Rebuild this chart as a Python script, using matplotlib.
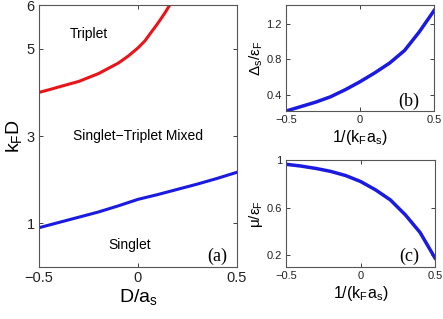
import matplotlib.pyplot as plt
import numpy as np

# panel (a): phase boundaries
red_x = [-0.5, -0.45, -0.4, -0.3, -0.2, -0.1, -0.05, 0.0, 0.035, 0.067, 0.095, 0.118, 0.14, 0.16]
red_y = [4.0, 4.06, 4.125, 4.25, 4.43, 4.67, 4.83, 5.02, 5.18, 5.38, 5.55, 5.70, 5.85, 6.0]
blue_x = [-0.5, -0.4, -0.3, -0.2, -0.1, 0.0, 0.1, 0.2, 0.3, 0.4, 0.5]
blue_y = [0.9, 1.02, 1.14, 1.26, 1.4, 1.55, 1.66, 1.78, 1.9, 2.03, 2.17]

# panels (b) and (c)
inv_kfa = [-0.5, -0.4, -0.3, -0.2, -0.1, 0.0, 0.1, 0.2, 0.3, 0.4, 0.5]
gap = [0.22, 0.27, 0.32, 0.38, 0.46, 0.55, 0.65, 0.76, 0.90, 1.11, 1.35]
mu = [0.965, 0.95, 0.93, 0.905, 0.87, 0.82, 0.75, 0.665, 0.54, 0.39, 0.175]

plt.rcParams['font.family'] = ['Liberation Sans', 'DejaVu Sans']
plt.rcParams['mathtext.fontset'] = 'custom'
plt.rcParams['mathtext.rm'] = 'Liberation Sans'
plt.rcParams['mathtext.it'] = 'Liberation Sans'
plt.rcParams['lines.solid_joinstyle'] = 'round'

fig = plt.figure(figsize=(4.43, 3.19), dpi=100)
axa = fig.add_axes([0.088, 0.163, 0.447, 0.821])
axb = fig.add_axes([0.646, 0.652, 0.334, 0.332])
axc = fig.add_axes([0.646, 0.163, 0.336, 0.335])

def style(ax, size):
    for s in ax.spines.values():
        s.set_color('#555555')
        s.set_linewidth(0.8)
    ax.tick_params(direction='in', top=True, right=True, length=3, width=0.6,
                   labelsize=size, pad=3, colors='#222222')

axa.plot(red_x, red_y, color='#e8141a', lw=2.2)
axa.plot(blue_x, blue_y, color='#1a1ae0', lw=2.2)
axa.set_xlim(-0.5, 0.5)
axa.set_ylim(0, 6)
axa.set_xticks([-0.5, 0, 0.5])
axa.set_xticklabels(['\u22120.5', '0', '0.5'])
axa.set_yticks([1, 3, 5, 6])
style(axa, 10.5)
axa.set_xlabel('D/a$_\\mathrm{s}$', fontsize=14, labelpad=1)
axa.set_ylabel('k$_\\mathrm{F}$D', fontsize=14, labelpad=2)
axa.text(-0.25, 5.33, 'Triplet', fontsize=10, ha='center', va='center')
axa.text(0.0, 3.0, 'Singlet\u2212Triplet Mixed', fontsize=10, ha='center', va='center')
axa.text(-0.04, 0.5, 'Singlet', fontsize=10, ha='center', va='center')
axa.text(0.4, 0.25, '(a)', fontsize=13, family='Liberation Serif', ha='center', va='center')

axb.plot(inv_kfa, gap, color='#1a1ae0', lw=2.5)
axb.set_xlim(-0.5, 0.5)
axb.set_ylim(0.22, 1.41)
axb.set_xticks([-0.5, 0, 0.5])
axb.set_xticklabels(['\u22120.5', '0', '0.5'])
axb.set_yticks([0.4, 0.8, 1.2])
style(axb, 8)
axb.set_xlabel('1/(k$_\\mathrm{F}$a$_\\mathrm{s}$)', fontsize=11.5, labelpad=2)
axb.set_ylabel('$\\Delta_\\mathrm{s}/\\epsilon_\\mathrm{F}$', fontsize=11, labelpad=1)
axb.text(0.33, 0.33, '(b)', fontsize=13, family='Liberation Serif', ha='center', va='center')

axc.plot(inv_kfa, mu, color='#1a1ae0', lw=2.5)
axc.set_xlim(-0.5, 0.5)
axc.set_ylim(0.1, 1.0)
axc.set_xticks([-0.5, 0, 0.5])
axc.set_xticklabels(['\u22120.5', '0', '0.5'])
axc.set_yticks([0.2, 0.6, 1.0])
axc.set_yticklabels(['0.2', '0.6', '1'])
style(axc, 8)
axc.set_xlabel('1/(k$_\\mathrm{F}$a$_\\mathrm{s}$)', fontsize=11.5, labelpad=2)
axc.set_ylabel('$\\mu/\\epsilon_\\mathrm{F}$', fontsize=11, labelpad=1)
axc.text(0.33, 0.19, '(c)', fontsize=13, family='Liberation Serif', ha='center', va='center')

fig.savefig('out.png', dpi=100)
